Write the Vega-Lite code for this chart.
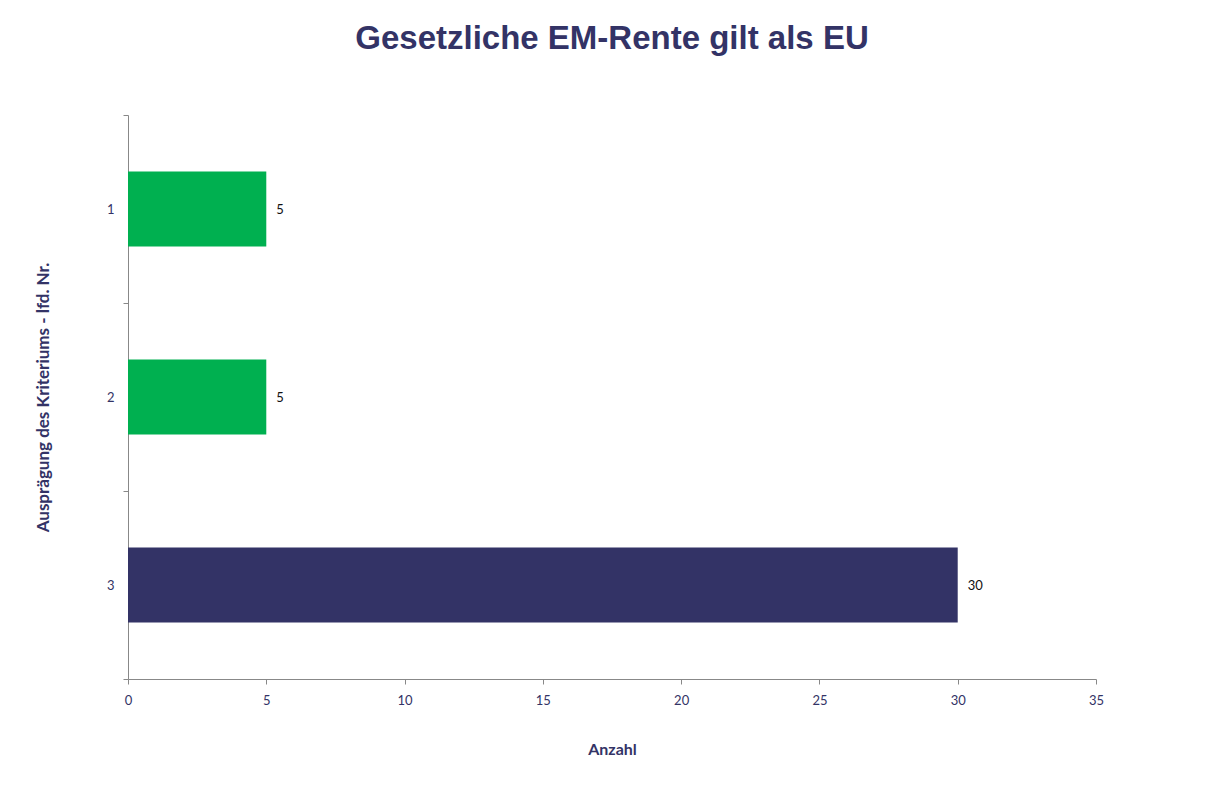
{
  "$schema": "https://vega.github.io/schema/vega-lite/v6.json",
  "autosize": {"type": "none"},
  "width": 968,
  "height": 564,
  "padding": {"left": 128, "top": 115, "right": 110, "bottom": 106},
  "background": "white",
  "title": {
    "text": "Gesetzliche EM-Rente gilt als EU",
    "font": "Liberation Sans",
    "fontSize": 33,
    "fontWeight": "bold",
    "color": "#333366",
    "anchor": "middle",
    "offset": 53
  },
  "data": {
    "values": [
      {"nr": "1", "anzahl": 5},
      {"nr": "2", "anzahl": 5},
      {"nr": "3", "anzahl": 30}
    ]
  },
  "config": {
    "view": {"stroke": null},
    "font": "Lato"
  },
  "encoding": {
    "y": {
      "field": "nr",
      "type": "nominal",
      "sort": ["1", "2", "3"],
      "scale": {"paddingInner": 0, "paddingOuter": 0},
      "axis": {
        "title": "Ausprägung des Kriteriums - lfd. Nr.",
        "titleFont": "Lato",
        "titleFontSize": 17,
        "titleFontWeight": "bold",
        "titleColor": "#333366",
        "titlePadding": 54,
        "labelFont": "Lato",
        "labelFontSize": 13,
        "labelColor": "#333366",
        "labelPadding": 9,
        "labelAngle": 0,
        "tickBand": "extent",
        "tickSize": 5,
        "tickColor": "#888888",
        "domainColor": "#888888",
        "grid": false
      }
    },
    "x": {
      "field": "anzahl",
      "type": "quantitative",
      "scale": {"domain": [0, 35], "nice": false},
      "axis": {
        "title": "Anzahl",
        "titleFont": "Lato",
        "titleFontSize": 16,
        "titleFontWeight": "bold",
        "titleColor": "#333366",
        "titlePadding": 34,
        "values": [0, 5, 10, 15, 20, 25, 30, 35],
        "labelFlush": false,
        "labelFont": "Lato",
        "labelFontSize": 13,
        "labelColor": "#333366",
        "labelPadding": 10,
        "tickSize": 5,
        "tickColor": "#888888",
        "domainColor": "#888888",
        "grid": false
      }
    }
  },
  "layer": [
    {
      "mark": {"type": "bar", "height": {"band": 0.4}},
      "encoding": {
        "color": {
          "condition": {"test": "datum.nr == '3'", "value": "#333366"},
          "value": "#00B050"
        }
      }
    },
    {
      "mark": {"type": "text", "align": "left", "dx": 10, "dy": 1, "fontSize": 13, "font": "Lato", "color": "#111111"},
      "encoding": {
        "text": {"field": "anzahl", "type": "quantitative"}
      }
    }
  ]
}
